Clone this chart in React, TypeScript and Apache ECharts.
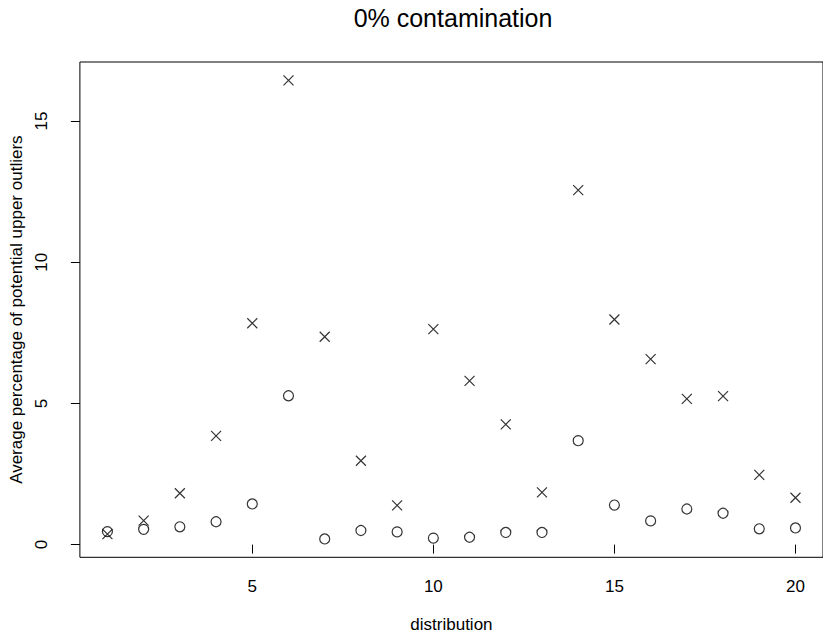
import React, { useEffect, useRef } from "react";
import * as echarts from "echarts";

const distributions = [1, 2, 3, 4, 5, 6, 7, 8, 9, 10, 11, 12, 13, 14, 15, 16, 17, 18, 19, 20];
const circleValues = [0.46, 0.54, 0.63, 0.81, 1.44, 5.27, 0.2, 0.5, 0.45, 0.23, 0.26, 0.43, 0.43, 3.68, 1.4, 0.84, 1.26, 1.11, 0.56, 0.59];
const crossValues = [0.37, 0.85, 1.82, 3.85, 7.84, 16.44, 7.36, 2.97, 1.39, 7.63, 5.8, 4.26, 1.85, 12.55, 7.97, 6.57, 5.16, 5.26, 2.47, 1.66];
const xTicks = [5, 10, 15, 20];
const yTicks = [0, 5, 10, 15];

const FONT = "'Liberation Sans', Arial, Helvetica, sans-serif";

export default function App() {
  const ref = useRef<HTMLDivElement>(null);
  useEffect(() => {
    const chart = echarts.init(ref.current!, null, { renderer: "svg" });
    const xMin = 1 - 0.04 * 19;
    const xMax = 20 + 0.04 * 19;
    const allY = circleValues.concat(crossValues);
    const lo = Math.min(...allY);
    const hi = Math.max(...allY);
    const ext = (hi - lo) * 0.04;
    chart.setOption({
      animation: false,
      backgroundColor: "#fff",
      textStyle: { fontFamily: FONT },
      title: {
        text: "0% contamination",
        left: 448,
        top: 0,
        textAlign: "center",
        textStyle: { fontFamily: FONT, fontSize: 25, fontWeight: "normal", color: "#000" },
      },
      grid: {
        left: 77.5,
        top: 62,
        width: 751.3,
        height: 495.3,
        show: true,
        borderColor: "#000",
        borderWidth: 1,
        backgroundColor: "transparent",
      },
      xAxis: {
        type: "value",
        min: xMin,
        max: xMax,
        name: "distribution",
        nameLocation: "middle",
        nameGap: 59,
        nameTextStyle: { fontFamily: FONT, fontSize: 17, color: "#000" },
        axisLine: { show: false },
        splitLine: { show: false },
        axisTick: { show: true, customValues: xTicks, length: 9, lineStyle: { color: "#000", width: 1 } },
        axisLabel: { customValues: xTicks, margin: 21, fontFamily: FONT, fontSize: 17, color: "#000" },
      },
      yAxis: {
        type: "value",
        min: lo - ext,
        max: hi + ext,
        name: "Average percentage of potential upper outliers",
        nameLocation: "middle",
        nameRotate: 90,
        nameGap: 52,
        nameTextStyle: { fontFamily: FONT, fontSize: 17, color: "#000" },
        axisLine: { show: false },
        splitLine: { show: false },
        axisTick: { show: true, customValues: yTicks, length: 9, lineStyle: { color: "#000", width: 1 } },
        axisLabel: { customValues: yTicks, rotate: 90, margin: 30, fontFamily: FONT, fontSize: 17, color: "#000" },
      },
      series: [
        {
          type: "scatter",
          name: "circles",
          data: distributions.map((d, i) => [d, circleValues[i]]),
          symbol: "circle",
          symbolSize: 10,
          itemStyle: { color: "none", borderColor: "#000", borderWidth: 1.2 },
        },
        {
          type: "scatter",
          name: "crosses",
          data: distributions.map((d, i) => [d, crossValues[i]]),
          symbol: "path://M0,0L10,10M10,0L0,10",
          symbolSize: 10,
          itemStyle: { color: "none", borderColor: "#000", borderWidth: 1.2 },
        },
      ],
    });
    return () => chart.dispose();
  }, []);
  return (
    <div
      ref={ref}
      style={{ position: "fixed", left: 0, top: 0, width: 823, height: 639, background: "#fff" }}
    />
  );
}
